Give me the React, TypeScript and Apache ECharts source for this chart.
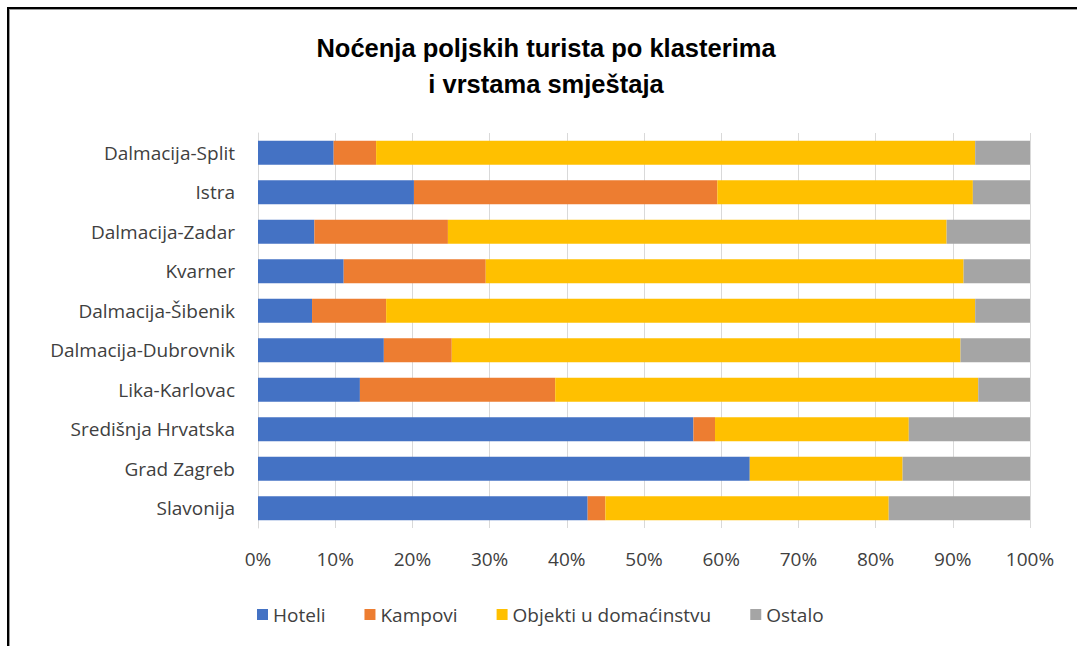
import React, { useEffect, useRef } from "react";
import * as echarts from "echarts";

const categories = [
  "Dalmacija-Split",
  "Istra",
  "Dalmacija-Zadar",
  "Kvarner",
  "Dalmacija-Šibenik",
  "Dalmacija-Dubrovnik",
  "Lika-Karlovac",
  "Središnja Hrvatska",
  "Grad Zagreb",
  "Slavonija",
];

const hoteli = [9.8, 20.2, 7.3, 11.1, 7.0, 16.3, 13.2, 56.4, 63.7, 42.7];
const kampovi = [5.5, 39.3, 17.3, 18.4, 9.6, 8.8, 25.3, 2.8, 0, 2.3];
const objekti = [77.6, 33.1, 64.6, 61.9, 76.3, 65.9, 54.8, 25.1, 19.8, 36.7];
const ostalo = [7.1, 7.4, 10.8, 8.6, 7.1, 9.0, 6.7, 15.7, 16.5, 18.3];

const seriesNames = ["Hoteli", "Kampovi", "Objekti u domaćinstvu", "Ostalo"];
const seriesData = [hoteli, kampovi, objekti, ostalo];
const colors = ["#4472C4", "#ED7D31", "#FFC000", "#A5A5A5"];

const FONT = "Open Sans";

export default function App() {
  const ref = useRef<HTMLDivElement>(null);
  useEffect(() => {
    if (!ref.current) return;
    const chart = echarts.init(ref.current, undefined, { renderer: "svg" });
    chart.setOption({
      animation: false,
      backgroundColor: "#ffffff",
      color: colors,
      title: {
        text: "Noćenja poljskih turista po klasterima\ni vrstama smještaja",
        left: 541,
        top: 25,
        textAlign: "center",
        textStyle: {
          fontFamily: "Liberation Sans",
          fontSize: 25.5,
          fontWeight: "bold",
          color: "#000000",
          lineHeight: 36,
        },
      },
      legend: {
        left: 252,
        top: 600,
        itemWidth: 11,
        itemHeight: 11,
        itemGap: 39,
        icon: "rect",
        textStyle: { fontFamily: FONT, fontSize: 19, color: "#404040" },
        data: seriesNames,
      },
      grid: { left: 258, right: 47, top: 133, bottom: 118 },
      xAxis: {
        type: "value",
        min: 0,
        max: 100,
        interval: 10,
        axisLine: { show: false },
        axisTick: { show: false },
        axisLabel: {
          formatter: "{value}%",
          fontFamily: FONT,
          fontSize: 19,
          color: "#404040",
          margin: 21,
        },
        splitLine: { lineStyle: { color: "#D9D9D9", width: 1 } },
      },
      yAxis: {
        type: "category",
        inverse: true,
        data: categories,
        axisLine: { show: true, lineStyle: { color: "#D9D9D9" } },
        axisTick: { show: false },
        axisLabel: {
          fontFamily: FONT,
          fontSize: 19,
          color: "#404040",
          margin: 23,
        },
      },
      series: seriesData.map((d, i) => ({
        name: seriesNames[i],
        type: "bar",
        stack: "total",
        data: d,
        barCategoryGap: "39%",
        itemStyle: { color: colors[i] },
      })),
      graphic: [
        {
          type: "line",
          shape: { x1: 7, y1: 8, x2: 1077, y2: 8 },
          style: { stroke: "#000000", lineWidth: 2 },
        },
        {
          type: "line",
          shape: { x1: 8, y1: 7, x2: 8, y2: 646 },
          style: { stroke: "#000000", lineWidth: 2 },
        },
        {
          type: "line",
          shape: { x1: 9, y1: 9.5, x2: 1077, y2: 9.5 },
          style: { stroke: "#9a9a9a", lineWidth: 1 },
        },
        {
          type: "line",
          shape: { x1: 9.5, y1: 9, x2: 9.5, y2: 646 },
          style: { stroke: "#9a9a9a", lineWidth: 1 },
        },
      ],
    });
    return () => chart.dispose();
  }, []);
  return (
    <div
      ref={ref}
      style={{ position: "fixed", left: 0, top: 0, width: 1077, height: 646 }}
    />
  );
}
